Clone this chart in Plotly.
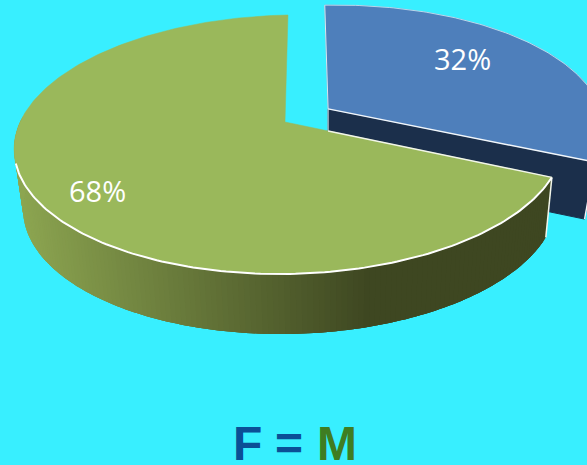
import math
import plotly.graph_objects as go

# ---- data ----
labels = ["F", "M"]
values = [32, 68]
percent_text = ["32%", "68%"]
title_parts = ["F", "=", "M"]

# ---- styling ----
BG = "#38EFFF"
TOP = ["#4E7FBB", "#9AB85B"]
BLUE_WALL = "#1B2F4B"
WALL_LIGHT = (141, 166, 81)
WALL_DARK = (62, 71, 33)
TITLE_BLUE = "#0B4F96"
TITLE_GREEN = "#3F7D22"

W, H = 587, 465
CX, CY = 285.0, 122.0
A, B, K = 270.5, 125.6, 0.1737
M_PERSP, SHEAR_X, SHEAR_Y = -0.016, 3.5, 3.3
DEPTH, SHRINK, SHRINK_X0 = 60.0, 0.972, 336.0
BLUE_DEPTH, BLUE_SHRINK = 57.0, 0.962
EXPLODE = 0.19


def project(u, v):
    d = 1 + K * v + M_PERSP * u
    return CX + (A * u + SHEAR_X * v) / d, CY - (B * v + SHEAR_Y * u) / d


def lower(x, y):
    return SHRINK_X0 + (x - SHRINK_X0) * SHRINK, y + DEPTH


def scatter(xs, ys, fill=None, line=None, width=1.0):
    return go.Scatter(
        x=xs, y=ys, mode="lines",
        fill="toself" if fill else None,
        fillcolor=fill,
        line=dict(color=line or fill, width=width),
        hoverinfo="skip", showlegend=False,
    )


def seg(p, q, color, width):
    return scatter([p[0], q[0]], [p[1], q[1]], line=color, width=width)


total = sum(values)
blue_sweep = 2 * math.pi * values[0] / total
mid = blue_sweep / 2
ox, oy = EXPLODE * math.sin(mid), EXPLODE * math.cos(mid)


def arc(start, end, n, dx=0.0, dy=0.0):
    pts = []
    for i in range(n + 1):
        a = start + (end - start) * i / n
        pts.append(project(math.sin(a) + dx, math.cos(a) + dy))
    return pts


traces = []

# --- blue slice ---
b_center = project(ox, oy)
b_arc = arc(0, blue_sweep, 120, ox, oy)
b_end = b_arc[-1]


def lower_blue(x, y):
    return b_center[0] + (x - b_center[0]) * BLUE_SHRINK, y + BLUE_DEPTH


low_c, low_e = lower_blue(*b_center), lower_blue(*b_end)
traces.append(scatter([b_center[0], b_end[0], low_e[0], low_c[0], b_center[0]],
                      [b_center[1], b_end[1], low_e[1], low_c[1], b_center[1]],
                      fill=BLUE_WALL))
traces.append(seg(b_end, low_e, "#F2F6FA", 1.4))
traces.append(seg(b_center, low_c, "#DCE6EE", 1.0))
poly = [b_center] + b_arc + [b_center]
traces.append(scatter([p[0] for p in poly], [p[1] for p in poly], fill=TOP[0], width=0.5))
traces.append(scatter([p[0] for p in b_arc], [p[1] for p in b_arc], line="#D8E6F2", width=0.8))
traces.append(seg(b_arc[0], b_center, "#DCE6EE", 1.0))
traces.append(seg(b_center, b_end, "#F2F6FA", 1.5))

# --- green slice wall ---
g_arc = arc(blue_sweep, 2 * math.pi, 240)
xmin = min(p[0] for p in g_arc)
xmax = max(p[0] for p in g_arc)
for i in range(len(g_arc) - 3):
    p, q = g_arc[i], g_arc[i + 1]
    if q[1] < CY and p[1] < CY:
        continue
    span = g_arc[i:i + 4]
    low = [lower(*s) for s in reversed(span)]
    ring = span + low + [span[0]]
    t = ((p[0] + q[0]) / 2 - xmin) / (xmax - xmin)
    t = min(1, max(0, t / 0.66))
    col = "rgb(%d,%d,%d)" % tuple(
        round(WALL_LIGHT[c] + (WALL_DARK[c] - WALL_LIGHT[c]) * t) for c in range(3))
    traces.append(go.Scatter(x=[s[0] for s in ring], y=[s[1] for s in ring], mode="none",
                             fill="toself", fillcolor=col, hoverinfo="skip", showlegend=False))

# right end of the wall
g_end = g_arc[0]
traces.append(seg(g_end, lower(*g_end), "#F2F6EA", 1.5))

# --- green top ---
g_center = project(0, 0)
poly = [g_center] + g_arc + [g_center]
traces.append(scatter([p[0] for p in poly], [p[1] for p in poly], fill=TOP[1], width=0.5))

# white rim on the front of the arc
front = [p for p in g_arc if p[1] >= 162]
traces.append(scatter([p[0] for p in front], [p[1] for p in front], line="#FFFFFF", width=2))
# white edge only where the cut runs in front of the blue wall
frac = (low_c[0] - g_center[0]) / (g_end[0] - g_center[0])
cut_start = (g_center[0] + frac * (g_end[0] - g_center[0]),
             g_center[1] + frac * (g_end[1] - g_center[1]))
traces.append(seg(cut_start, g_end, "#F2F6EA", 1.4))

fig = go.Figure(traces)

pct_font = dict(family="Open Sans", size=29, color="white")
title_font = dict(family="Liberation Sans", size=48)
annotations = [
    dict(x=462, y=58, text=percent_text[0], font=pct_font),
    dict(x=97, y=190, text=percent_text[1], font=pct_font),
    dict(x=247.5, y=443, text="<b>%s</b>" % title_parts[0], font=dict(title_font, color=TITLE_BLUE)),
    dict(x=289, y=443, text="<b>%s</b>" % title_parts[1], font=dict(title_font, color=TITLE_BLUE)),
    dict(x=336.5, y=443, text="<b>%s</b>" % title_parts[2], font=dict(title_font, color=TITLE_GREEN)),
]
for a in annotations:
    a.update(xref="x", yref="y", showarrow=False, xanchor="center", yanchor="middle")

fig.update_layout(
    width=W, height=H, margin=dict(l=0, r=0, t=0, b=0),
    paper_bgcolor=BG, plot_bgcolor=BG,
    xaxis=dict(range=[0, W], visible=False, fixedrange=True),
    yaxis=dict(range=[H, 0], visible=False, fixedrange=True),
    annotations=annotations,
    showlegend=False,
)
fig.write_html("out.html", config=dict(displayModeBar=False),
               post_script="document.body.style.margin='0';document.body.style.overflow='hidden';")
